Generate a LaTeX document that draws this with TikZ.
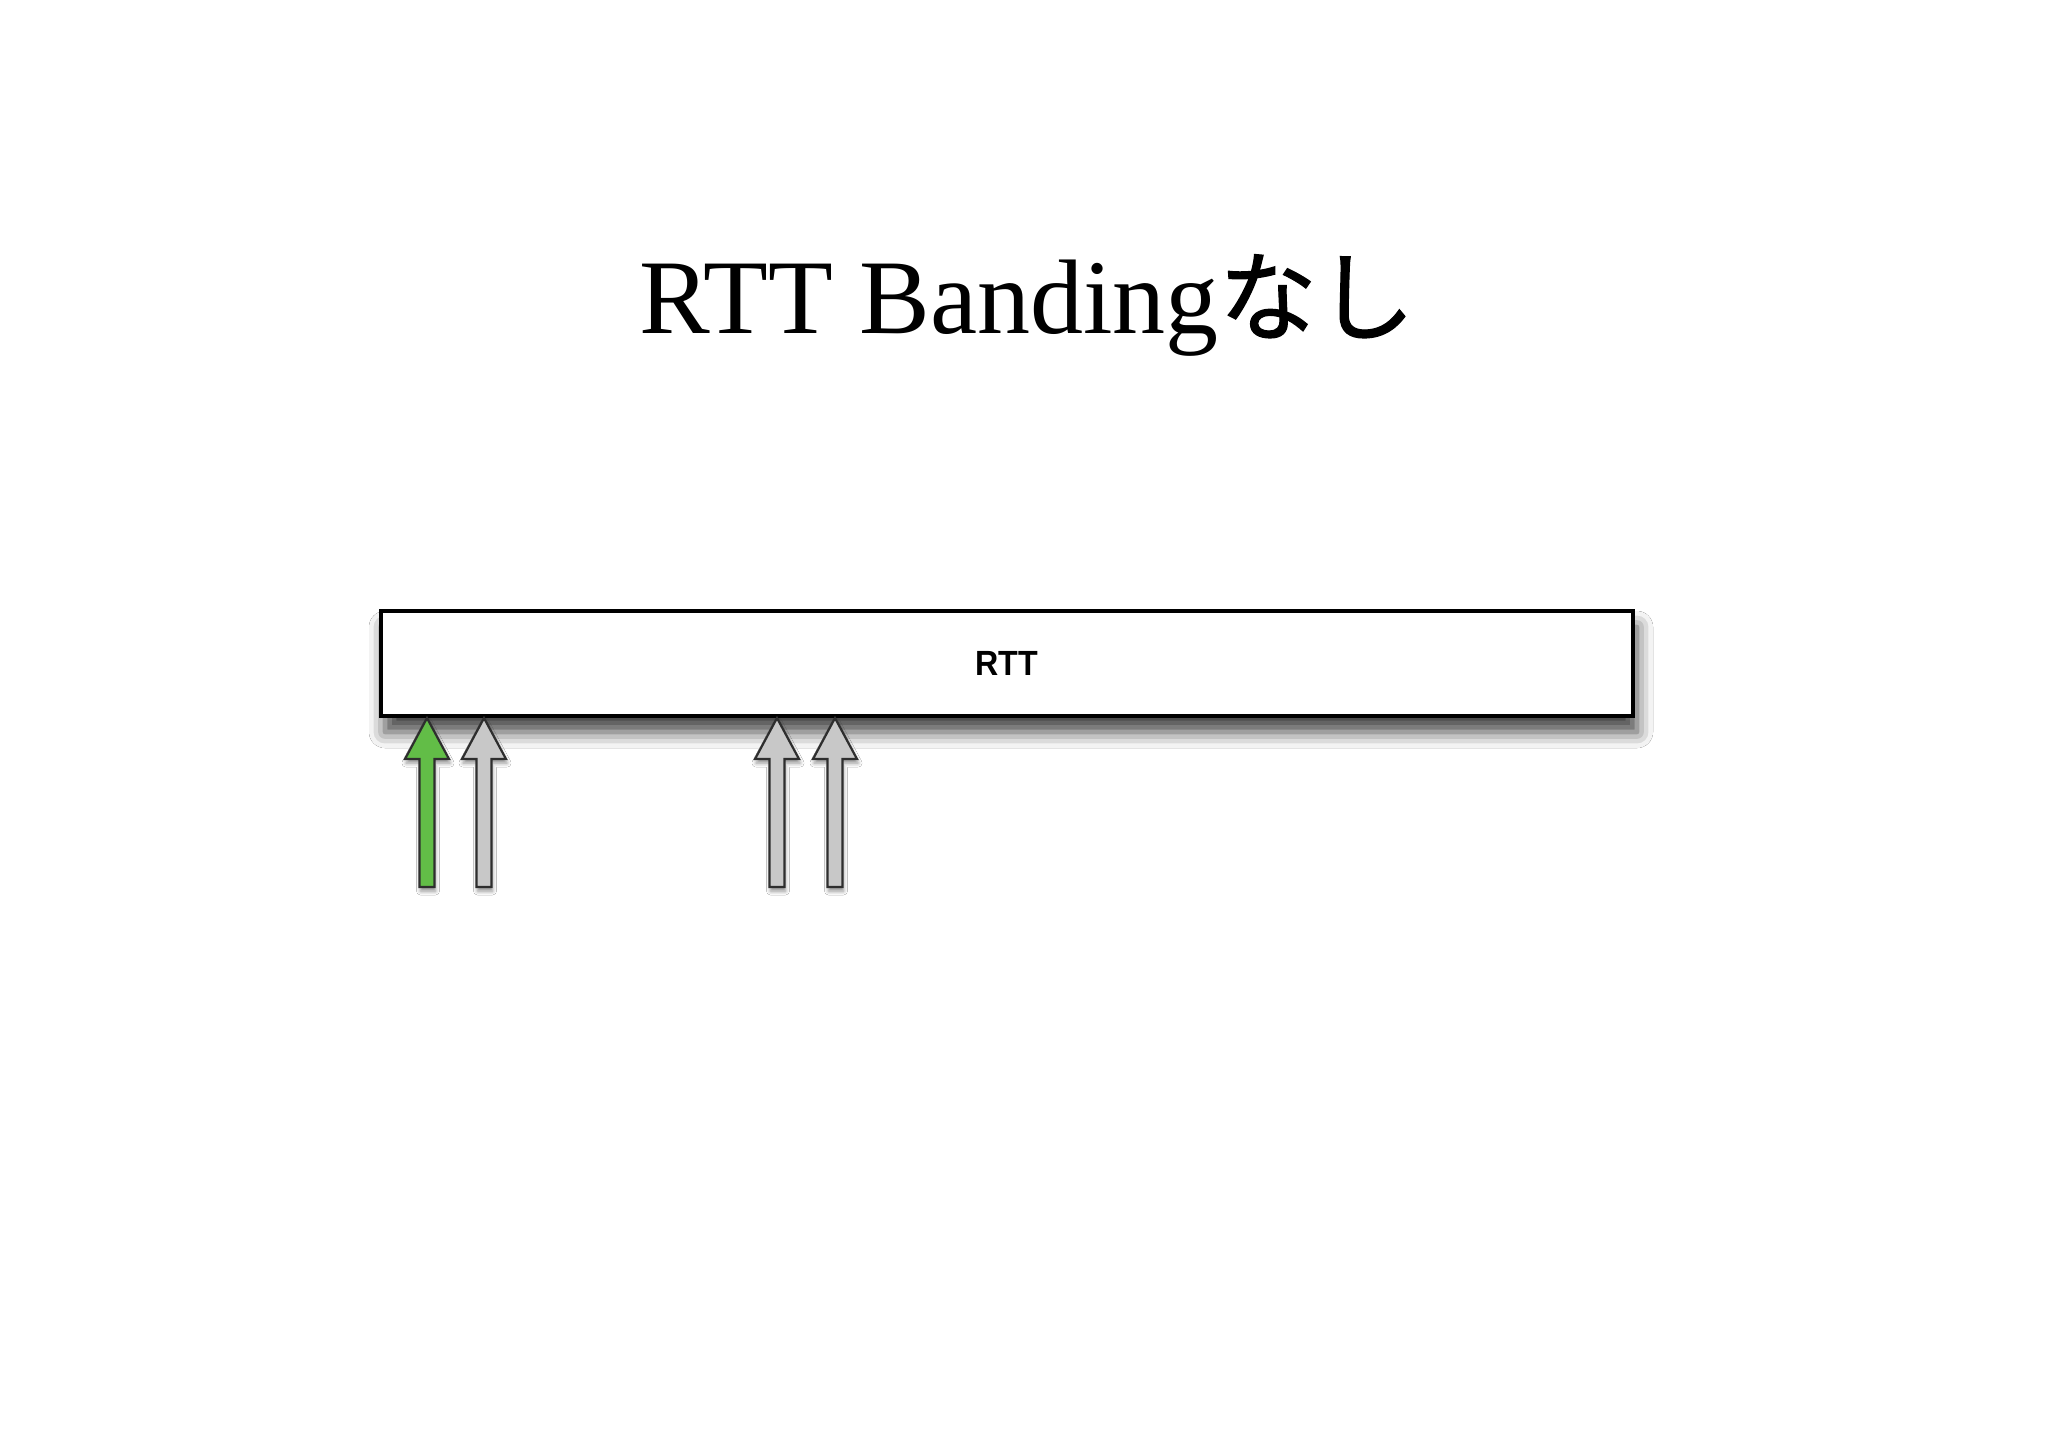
\documentclass[tikz,border=0pt]{standalone}
\usepackage{fontspec}
\usepackage{graphicx}
\setmainfont{Liberation Serif}
\newfontfamily\cjk[FakeBold=1.2]{Noto Sans CJK JP}
\newfontfamily\lsans{Liberation Sans}
\usetikzlibrary{shadows.blur}
\definecolor{armgreen}{HTML}{62BD47}
\definecolor{armgray}{HTML}{C8C8C8}
\definecolor{armline}{HTML}{2E2E2E}
\tikzset{
  rttbox/.style={draw=black, fill=white, line width=2pt, inner sep=0pt,
    minimum width=626pt, minimum height=52.5pt,
    blur shadow={shadow xshift=2pt, shadow yshift=-8pt, shadow blur radius=8pt, shadow opacity=75}},
  arrowline/.style={draw=armline, line width=1.1pt, line join=miter,
    blur shadow={shadow xshift=0.5pt, shadow yshift=-2pt, shadow blur radius=2pt, shadow opacity=45}},
  uparr/.pic={\path[arrowline, pic actions] (0,0) -- (22,41) -- (7.5,41) -- (7.5,169) -- (-7.5,169) -- (-7.5,41) -- (-22,41) -- cycle;},
  titletext/.style={anchor=base west, inner sep=0pt}
}
\begin{document}
\begin{tikzpicture}[x=0.5pt,y=-0.5pt]
\useasboundingbox (0,0) rectangle (2048,1448);
\fill[white] (0,0) rectangle (2048,1448);
\node[titletext] (title) at (639,333) {\fontsize{53}{60}\selectfont RTT Banding{\cjk\fontsize{49}{60}\selectfont なし}};
\node[rttbox] (rtt) at (1007,663.5) {\scalebox{0.92}[1]{\lsans\bfseries\fontsize{17.5}{20}\selectfont RTT}};
\coordinate (a1) at (427,718);
\coordinate (a2) at (484,718);
\coordinate (a3) at (777,718);
\coordinate (a4) at (835,718);
\pic[fill=armgreen] at (a1) {uparr};
\pic[fill=armgray] at (a2) {uparr};
\pic[fill=armgray] at (a3) {uparr};
\pic[fill=armgray] at (a4) {uparr};
\end{tikzpicture}
\end{document}
